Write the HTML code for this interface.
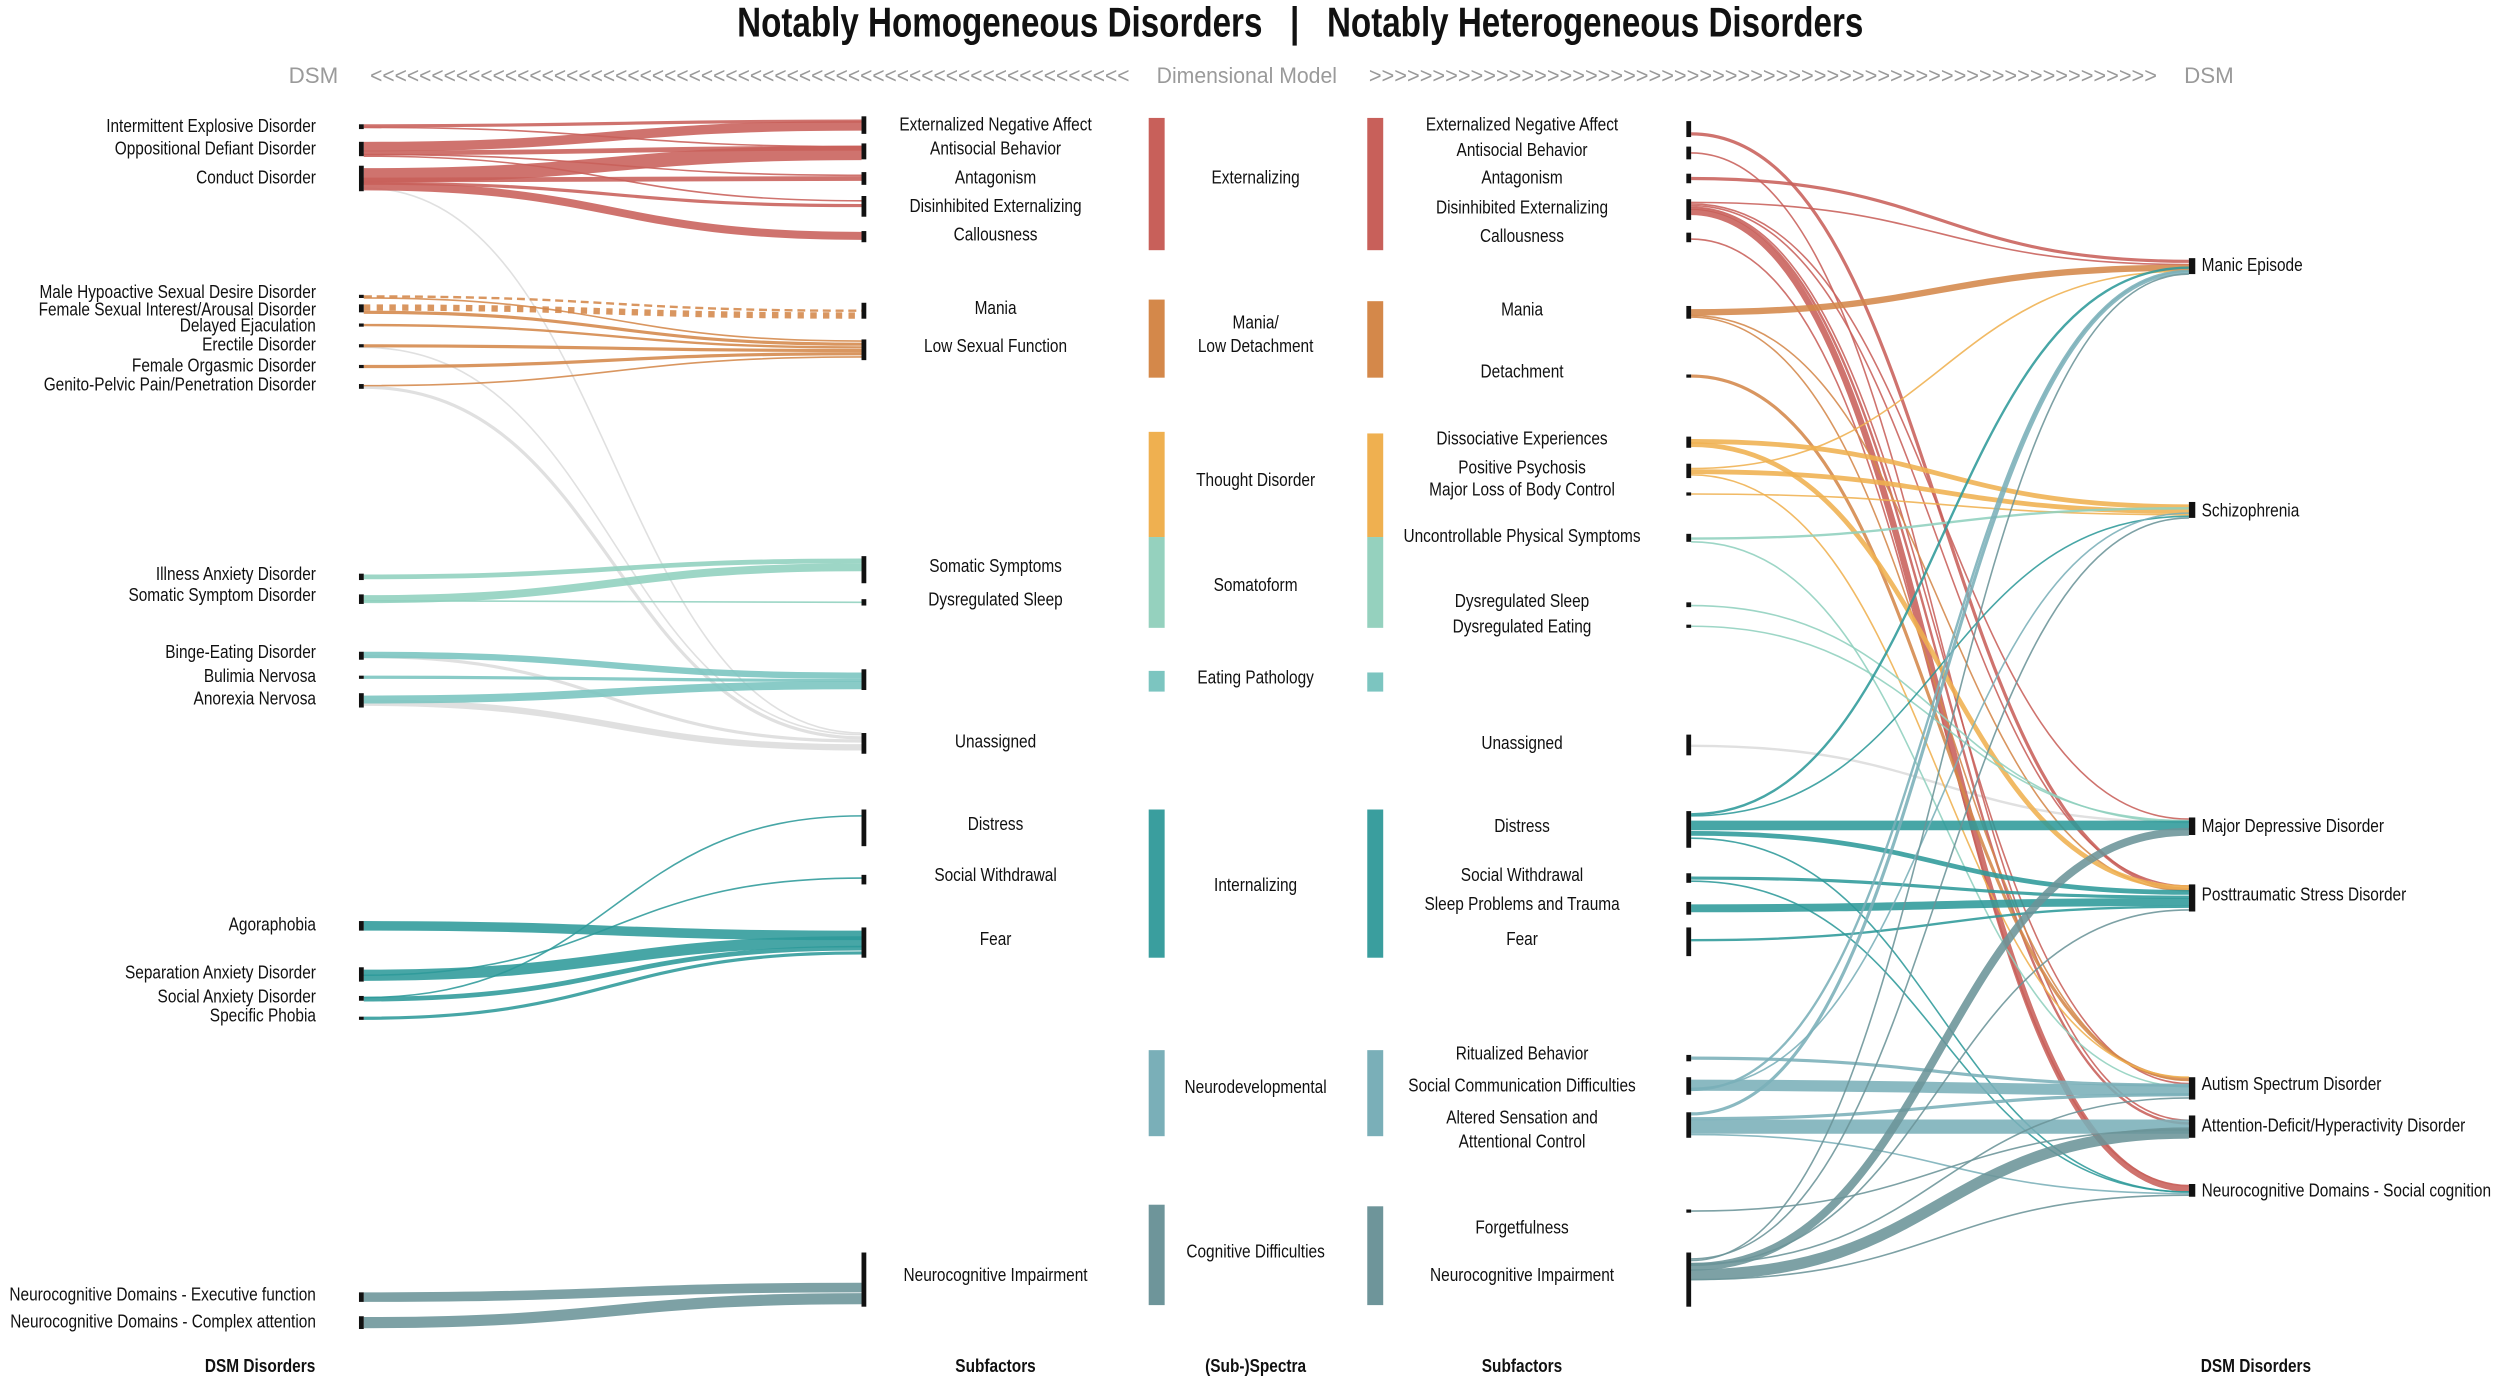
<!DOCTYPE html>
<html><head><meta charset="utf-8"><style>
html,body{margin:0;padding:0;background:#fff;}
svg{display:block;}
text{font-family:"Liberation Sans Narrow","Liberation Sans",sans-serif;fill:#111;font-size:11.5px;}
.sc text,text.sc{transform-box:fill-box;transform:scaleX(.84);}
.R text{transform-origin:100% 50%;}
.M text,text.M{transform-origin:50% 50%;}
.L text{transform-origin:0% 50%;}
.g{fill:#9a9a9a;font-size:14px;}
.b{font-weight:bold;font-size:11.5px;}
.t{font-weight:bold;font-size:26px;transform-box:fill-box;transform:scaleX(.8);transform-origin:50% 50%;}
.f path{fill:none;stroke-opacity:.88;}
.r{stroke:#C8605A}.o{stroke:#D4884A}.y{stroke:#EFB050}.s{stroke:#8FD0BE}.e{stroke:#79C4BF}.i{stroke:#2E9A9A}.n{stroke:#7AAFB8}.c{stroke:#6B9499}.gr{stroke:#dcdcdc}
</style></head><body>
<svg width="2500" height="1380" viewBox="0 0 1567 866" preserveAspectRatio="none" xmlns="http://www.w3.org/2000/svg">
<text class="t" x="815" y="23" text-anchor="middle">Notably Homogeneous Disorders&#160;&#160;&#160;|&#160;&#160;&#160;Notably Heterogeneous Disorders</text>
<text class="g" x="212" y="52" text-anchor="end">DSM</text>
<text class="g" x="232" y="52" textLength="476" lengthAdjust="spacingAndGlyphs">&lt;&lt;&lt;&lt;&lt;&lt;&lt;&lt;&lt;&lt;&lt;&lt;&lt;&lt;&lt;&lt;&lt;&lt;&lt;&lt;&lt;&lt;&lt;&lt;&lt;&lt;&lt;&lt;&lt;&lt;&lt;&lt;&lt;&lt;&lt;&lt;&lt;&lt;&lt;&lt;&lt;&lt;&lt;&lt;&lt;&lt;&lt;&lt;&lt;&lt;&lt;&lt;&lt;&lt;&lt;&lt;&lt;&lt;&lt;&lt;&lt;&lt;</text>
<text class="g" x="725" y="52" textLength="113" lengthAdjust="spacingAndGlyphs">Dimensional Model</text>
<text class="g" x="858" y="52" textLength="494" lengthAdjust="spacingAndGlyphs">&gt;&gt;&gt;&gt;&gt;&gt;&gt;&gt;&gt;&gt;&gt;&gt;&gt;&gt;&gt;&gt;&gt;&gt;&gt;&gt;&gt;&gt;&gt;&gt;&gt;&gt;&gt;&gt;&gt;&gt;&gt;&gt;&gt;&gt;&gt;&gt;&gt;&gt;&gt;&gt;&gt;&gt;&gt;&gt;&gt;&gt;&gt;&gt;&gt;&gt;&gt;&gt;&gt;&gt;&gt;&gt;&gt;&gt;&gt;&gt;&gt;&gt;</text>
<text class="g" x="1369" y="52">DSM</text>

<!-- left flows -->
<g class="f">
<path class="gr" stroke-width="1" d="M228 118 C384 118 384 460 540 460"/>
<path class="gr" stroke-width="2" d="M228 243 C384 243 384 463 540 463"/>
<path class="gr" stroke-width="1" d="M228 218 C384 218 384 461 540 461"/>
<path class="gr" stroke-width="2" d="M228 412 C384 412 384 465 540 465"/>
<path class="gr" stroke-width="4" d="M228 441 C384 441 384 469 540 469"/>
<path class="r" stroke-width="2" d="M228 79 C384 79 384 76 540 76"/>
<path class="r" stroke-width="1" d="M228 80 C384 80 384 92 540 92"/>
<path class="r" stroke-width="6" d="M228 92 C384 92 384 79 540 79"/>
<path class="r" stroke-width="3" d="M228 96 C384 96 384 93 540 93"/>
<path class="r" stroke-width="1" d="M228 97 C384 97 384 110 540 110"/>
<path class="r" stroke-width="1" d="M228 98 C384 98 384 126 540 126"/>
<path class="r" stroke-width="9" d="M228 110 C384 110 384 96 540 96"/>
<path class="r" stroke-width="3" d="M228 113 C384 113 384 112 540 112"/>
<path class="r" stroke-width="2" d="M228 115 C384 115 384 129 540 129"/>
<path class="r" stroke-width="5" d="M228 117 C384 117 384 148 540 148"/>
<path class="o" stroke-width="1.5" stroke-dasharray="5,3" d="M228 186 C384 186 384 195 540 195"/>
<path class="o" stroke-width="4" stroke-dasharray="4,4" d="M228 193 C384 193 384 198 540 198"/>
<path class="o" stroke-width="1" d="M228 187 C384 187 384 214 540 214"/>
<path class="o" stroke-width="2" d="M228 196 C384 196 384 216 540 216"/>
<path class="o" stroke-width="1.5" d="M228 204 C384 204 384 218 540 218"/>
<path class="o" stroke-width="2" d="M228 217 C384 217 384 220 540 220"/>
<path class="o" stroke-width="2" d="M228 230 C384 230 384 222 540 222"/>
<path class="o" stroke-width="1" d="M228 242 C384 242 384 224 540 224"/>
<path class="s" stroke-width="3" d="M228 362 C384 362 384 352 540 352"/>
<path class="s" stroke-width="5" d="M228 376 C384 376 384 356 540 356"/>
<path class="s" stroke-width="1" d="M228 377 C384 377 384 378 540 378"/>
<path class="e" stroke-width="4" d="M228 411 C384 411 384 424 540 424"/>
<path class="e" stroke-width="2" d="M228 425 C384 425 384 427 540 427"/>
<path class="e" stroke-width="5" d="M228 439 C384 439 384 430 540 430"/>
<path class="i" stroke-width="1" d="M228 626 C384 626 384 512 540 512"/>
<path class="i" stroke-width="1" d="M228 612 C384 612 384 551 540 551"/>
<path class="i" stroke-width="6" d="M228 581 C384 581 384 587 540 587"/>
<path class="i" stroke-width="7" d="M228 612 C384 612 384 591 540 591"/>
<path class="i" stroke-width="3" d="M228 627 C384 627 384 595 540 595"/>
<path class="i" stroke-width="2" d="M228 639 C384 639 384 598 540 598"/>
<path class="c" stroke-width="6" d="M228 814 C384 814 384 808 540 808"/>
<path class="c" stroke-width="7" d="M228 830 C384 830 384 815 540 815"/>
</g>

<!-- right flows -->
<g class="f">
<path class="gr" stroke-width="1.5" d="M1060 468 C1216 468 1216 516 1372 516"/>
<path class="r" stroke-width="2" d="M1060 84 C1216 84 1216 558 1372 558"/>
<path class="r" stroke-width="1" d="M1060 96 C1216 96 1216 703 1372 703"/>
<path class="r" stroke-width="2" d="M1060 112 C1216 112 1216 164 1372 164"/>
<path class="r" stroke-width="1" d="M1060 127 C1216 127 1216 166 1372 166"/>
<path class="r" stroke-width="4" d="M1060 133 C1216 133 1216 746 1372 746"/>
<path class="r" stroke-width="1" d="M1060 130 C1216 130 1216 680 1372 680"/>
<path class="r" stroke-width="1.5" d="M1060 131 C1216 131 1216 705 1372 705"/>
<path class="r" stroke-width="1" d="M1060 129 C1216 129 1216 556 1372 556"/>
<path class="r" stroke-width="1" d="M1060 128 C1216 128 1216 514 1372 514"/>
<path class="r" stroke-width="1" d="M1060 150 C1216 150 1216 744 1372 744"/>
<path class="o" stroke-width="4" d="M1060 196 C1216 196 1216 168 1372 168"/>
<path class="o" stroke-width="1" d="M1060 198 C1216 198 1216 559 1372 559"/>
<path class="o" stroke-width="1" d="M1060 199 C1216 199 1216 678 1372 678"/>
<path class="o" stroke-width="2" d="M1060 236 C1216 236 1216 677 1372 677"/>
<path class="y" stroke-width="3" d="M1060 277 C1216 277 1216 318 1372 318"/>
<path class="y" stroke-width="3" d="M1060 279 C1216 279 1216 557 1372 557"/>
<path class="y" stroke-width="3" d="M1060 296 C1216 296 1216 321 1372 321"/>
<path class="y" stroke-width="1" d="M1060 294 C1216 294 1216 170 1372 170"/>
<path class="y" stroke-width="1" d="M1060 298 C1216 298 1216 676 1372 676"/>
<path class="y" stroke-width="1" d="M1060 310 C1216 310 1216 323 1372 323"/>
<path class="s" stroke-width="1.5" d="M1060 338 C1216 338 1216 319 1372 319"/>
<path class="s" stroke-width="1" d="M1060 340 C1216 340 1216 682 1372 682"/>
<path class="s" stroke-width="1" d="M1060 380 C1216 380 1216 516 1372 516"/>
<path class="s" stroke-width="1" d="M1060 393 C1216 393 1216 515 1372 515"/>
<path class="i" stroke-width="1.5" d="M1060 511 C1216 511 1216 168 1372 168"/>
<path class="i" stroke-width="1" d="M1060 512 C1216 512 1216 324 1372 324"/>
<path class="i" stroke-width="6" d="M1060 518 C1216 518 1216 518 1372 518"/>
<path class="i" stroke-width="3" d="M1060 523 C1216 523 1216 560 1372 560"/>
<path class="i" stroke-width="1" d="M1060 526 C1216 526 1216 748 1372 748"/>
<path class="i" stroke-width="2" d="M1060 551 C1216 551 1216 563 1372 563"/>
<path class="i" stroke-width="1" d="M1060 553 C1216 553 1216 748 1372 748"/>
<path class="i" stroke-width="5" d="M1060 570 C1216 570 1216 566 1372 566"/>
<path class="i" stroke-width="1.5" d="M1060 590 C1216 590 1216 569 1372 569"/>
<path class="n" stroke-width="2" d="M1060 664 C1216 664 1216 681 1372 681"/>
<path class="n" stroke-width="7" d="M1060 681 C1216 681 1216 684 1372 684"/>
<path class="n" stroke-width="1" d="M1060 683 C1216 683 1216 322 1372 322"/>
<path class="n" stroke-width="1.5" d="M1060 684 C1216 684 1216 170 1372 170"/>
<path class="n" stroke-width="2" d="M1060 699 C1216 699 1216 171 1372 171"/>
<path class="n" stroke-width="2" d="M1060 702 C1216 702 1216 687 1372 687"/>
<path class="n" stroke-width="9" d="M1060 707 C1216 707 1216 707 1372 707"/>
<path class="n" stroke-width="1" d="M1060 712 C1216 712 1216 749 1372 749"/>
<path class="c" stroke-width="1" d="M1060 760 C1216 760 1216 709 1372 709"/>
<path class="c" stroke-width="5" d="M1060 795 C1216 795 1216 522 1372 522"/>
<path class="c" stroke-width="7" d="M1060 800 C1216 800 1216 711 1372 711"/>
<path class="c" stroke-width="1" d="M1060 790 C1216 790 1216 325 1372 325"/>
<path class="c" stroke-width="1" d="M1060 791 C1216 791 1216 172 1372 172"/>
<path class="c" stroke-width="1" d="M1060 793 C1216 793 1216 689 1372 689"/>
<path class="c" stroke-width="1" d="M1060 794 C1216 794 1216 571 1372 571"/>
<path class="c" stroke-width="1" d="M1060 803 C1216 803 1216 750 1372 750"/>
</g>

<!-- spectra bars -->
<g>
<rect x="720" y="74" width="10" height="83" fill="#C8605A"/><rect x="857" y="74" width="10" height="83" fill="#C8605A"/>
<rect x="720" y="188" width="10" height="49" fill="#D4884A"/><rect x="857" y="189" width="10" height="48" fill="#D4884A"/>
<rect x="720" y="271" width="10" height="66" fill="#EFB050"/><rect x="857" y="272" width="10" height="65" fill="#EFB050"/>
<rect x="720" y="337" width="10" height="57" fill="#95D1BE"/><rect x="857" y="337" width="10" height="57" fill="#95D1BE"/>
<rect x="720" y="421" width="10" height="13" fill="#7CC5C0"/><rect x="857" y="422" width="10" height="12" fill="#7CC5C0"/>
<rect x="720" y="508" width="10" height="93" fill="#3A9E9E"/><rect x="857" y="508" width="10" height="93" fill="#3A9E9E"/>
<rect x="720" y="659" width="10" height="54" fill="#7AAFB8"/><rect x="857" y="659" width="10" height="54" fill="#7AAFB8"/>
<rect x="720" y="756" width="10" height="63" fill="#6E959A"/><rect x="857" y="757" width="10" height="62" fill="#6E959A"/>
</g>

<!-- black node bars -->
<g fill="#111">
<rect x="225" y="78" width="3" height="3"/><rect x="225" y="89" width="3" height="9"/><rect x="225" y="104" width="3" height="16"/>
<rect x="225" y="185" width="3" height="2"/><rect x="225" y="191" width="3" height="5"/><rect x="225" y="203" width="3" height="2"/><rect x="225" y="216" width="3" height="2"/><rect x="225" y="229" width="3" height="2"/><rect x="225" y="241" width="3" height="3"/>
<rect x="225" y="360" width="3" height="4"/><rect x="225" y="373" width="3" height="6"/>
<rect x="225" y="409" width="3" height="5"/><rect x="225" y="424" width="3" height="2"/><rect x="225" y="435" width="3" height="9"/>
<rect x="225" y="578" width="3" height="6"/><rect x="225" y="607" width="3" height="9"/><rect x="225" y="625" width="3" height="3"/><rect x="225" y="638" width="3" height="2"/>
<rect x="225" y="811" width="3" height="6"/><rect x="225" y="826" width="3" height="8"/>
<rect x="540" y="73" width="3" height="11"/><rect x="540" y="90" width="3" height="10"/><rect x="540" y="108" width="3" height="8"/><rect x="540" y="123" width="3" height="13"/><rect x="540" y="145" width="3" height="7"/>
<rect x="540" y="190" width="3" height="10"/><rect x="540" y="213" width="3" height="13"/>
<rect x="540" y="349" width="3" height="17"/><rect x="540" y="376" width="3" height="4"/><rect x="540" y="420" width="3" height="13"/><rect x="540" y="460" width="3" height="13"/>
<rect x="540" y="508" width="3" height="23"/><rect x="540" y="549" width="3" height="6"/><rect x="540" y="582" width="3" height="19"/><rect x="540" y="786" width="3" height="34"/>
<rect x="1057" y="76" width="3" height="10"/><rect x="1057" y="92" width="3" height="8"/><rect x="1057" y="109" width="3" height="6"/><rect x="1057" y="125" width="3" height="13"/><rect x="1057" y="146" width="3" height="6"/>
<rect x="1057" y="192" width="3" height="8"/><rect x="1057" y="235" width="3" height="2"/>
<rect x="1057" y="274" width="3" height="7"/><rect x="1057" y="291" width="3" height="9"/><rect x="1057" y="309" width="3" height="2"/><rect x="1057" y="335" width="3" height="5"/>
<rect x="1057" y="378" width="3" height="3"/><rect x="1057" y="392" width="3" height="2"/><rect x="1057" y="461" width="3" height="13"/>
<rect x="1057" y="509" width="3" height="23"/><rect x="1057" y="548" width="3" height="6"/><rect x="1057" y="566" width="3" height="8"/><rect x="1057" y="582" width="3" height="18"/>
<rect x="1057" y="662" width="3" height="4"/><rect x="1057" y="676" width="3" height="11"/><rect x="1057" y="698" width="3" height="16"/><rect x="1057" y="759" width="3" height="2"/><rect x="1057" y="786" width="3" height="34"/>
<rect x="1372" y="162" width="4" height="10"/><rect x="1372" y="315" width="4" height="10"/><rect x="1372" y="513" width="4" height="11"/><rect x="1372" y="555" width="4" height="17"/><rect x="1372" y="676" width="4" height="14"/><rect x="1372" y="700" width="4" height="14"/><rect x="1372" y="743" width="4" height="8"/>
</g>

<!-- left DSM labels -->
<g class="sc R" text-anchor="end">
<text x="198" y="83">Intermittent Explosive Disorder</text>
<text x="198" y="97">Oppositional Defiant Disorder</text>
<text x="198" y="115">Conduct Disorder</text>
<text x="198" y="187">Male Hypoactive Sexual Desire Disorder</text>
<text x="198" y="198">Female Sexual Interest/Arousal Disorder</text>
<text x="198" y="208">Delayed Ejaculation</text>
<text x="198" y="220">Erectile Disorder</text>
<text x="198" y="233">Female Orgasmic Disorder</text>
<text x="198" y="245">Genito-Pelvic Pain/Penetration Disorder</text>
<text x="198" y="364">Illness Anxiety Disorder</text>
<text x="198" y="377">Somatic Symptom Disorder</text>
<text x="198" y="413">Binge-Eating Disorder</text>
<text x="198" y="428">Bulimia Nervosa</text>
<text x="198" y="442">Anorexia Nervosa</text>
<text x="198" y="584">Agoraphobia</text>
<text x="198" y="614">Separation Anxiety Disorder</text>
<text x="198" y="629">Social Anxiety Disorder</text>
<text x="198" y="641">Specific Phobia</text>
<text x="198" y="816">Neurocognitive Domains - Executive function</text>
<text x="198" y="833">Neurocognitive Domains - Complex attention</text>
</g>

<!-- subfactor & spectra labels -->
<g class="sc M" text-anchor="middle">
<text x="624" y="82">Externalized Negative Affect</text>
<text x="624" y="97">Antisocial Behavior</text>
<text x="624" y="115">Antagonism</text>
<text x="624" y="133">Disinhibited Externalizing</text>
<text x="624" y="151">Callousness</text>
<text x="624" y="197">Mania</text>
<text x="624" y="221">Low Sexual Function</text>
<text x="624" y="359">Somatic Symptoms</text>
<text x="624" y="380">Dysregulated Sleep</text>
<text x="624" y="469">Unassigned</text>
<text x="624" y="521">Distress</text>
<text x="624" y="553">Social Withdrawal</text>
<text x="624" y="593">Fear</text>
<text x="624" y="804">Neurocognitive Impairment</text>

<text x="787" y="115">Externalizing</text>
<text x="787" y="206">Mania/</text>
<text x="787" y="221">Low Detachment</text>
<text x="787" y="305">Thought Disorder</text>
<text x="787" y="371">Somatoform</text>
<text x="787" y="429">Eating Pathology</text>
<text x="787" y="559">Internalizing</text>
<text x="787" y="686">Neurodevelopmental</text>
<text x="787" y="789">Cognitive Difficulties</text>

<text x="954" y="82">Externalized Negative Affect</text>
<text x="954" y="98">Antisocial Behavior</text>
<text x="954" y="115">Antagonism</text>
<text x="954" y="134">Disinhibited Externalizing</text>
<text x="954" y="152">Callousness</text>
<text x="954" y="198">Mania</text>
<text x="954" y="237">Detachment</text>
<text x="954" y="279">Dissociative Experiences</text>
<text x="954" y="297">Positive Psychosis</text>
<text x="954" y="311">Major Loss of Body Control</text>
<text x="954" y="340">Uncontrollable Physical Symptoms</text>
<text x="954" y="381">Dysregulated Sleep</text>
<text x="954" y="397">Dysregulated Eating</text>
<text x="954" y="470">Unassigned</text>
<text x="954" y="522">Distress</text>
<text x="954" y="553">Social Withdrawal</text>
<text x="954" y="571">Sleep Problems and Trauma</text>
<text x="954" y="593">Fear</text>
<text x="954" y="665">Ritualized Behavior</text>
<text x="954" y="685">Social Communication Difficulties</text>
<text x="954" y="705">Altered Sensation and</text>
<text x="954" y="720">Attentional Control</text>
<text x="954" y="774">Forgetfulness</text>
<text x="954" y="804">Neurocognitive Impairment</text>

<text class="b" x="163" y="861">DSM Disorders</text>
<text class="b" x="624" y="861">Subfactors</text>
<text class="b" x="787" y="861">(Sub-)Spectra</text>
<text class="b" x="954" y="861">Subfactors</text>
<text class="b" x="1414" y="861">DSM Disorders</text>
</g>

<!-- right DSM labels -->
<g class="sc L">
<text x="1380" y="170">Manic Episode</text>
<text x="1380" y="324">Schizophrenia</text>
<text x="1380" y="522">Major Depressive Disorder</text>
<text x="1380" y="565">Posttraumatic Stress Disorder</text>
<text x="1380" y="684">Autism Spectrum Disorder</text>
<text x="1380" y="710">Attention-Deficit/Hyperactivity Disorder</text>
<text x="1380" y="751">Neurocognitive Domains - Social cognition</text>
</g>
</svg>
</body></html>
